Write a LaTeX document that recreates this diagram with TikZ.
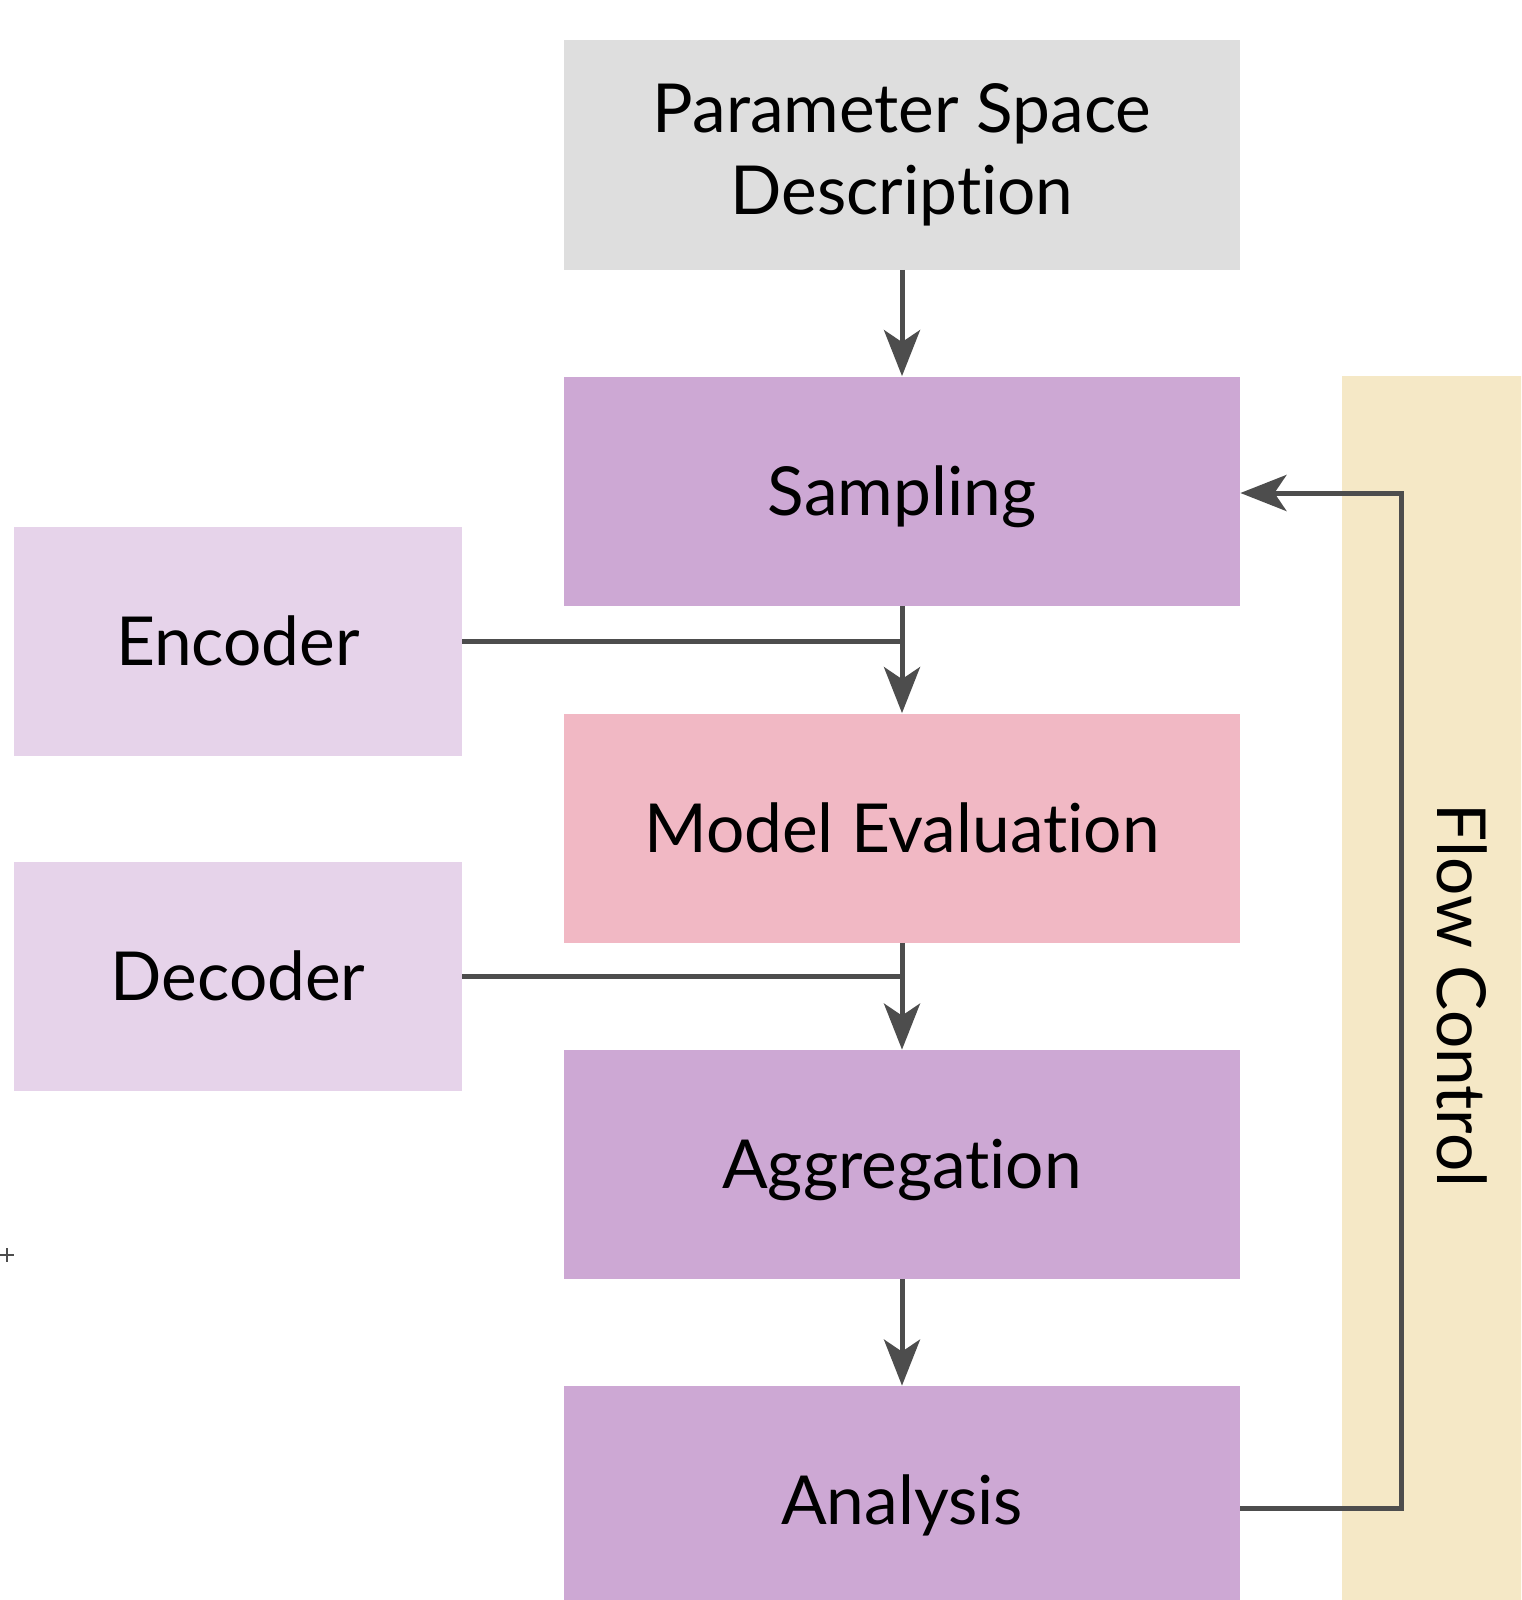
\documentclass[tikz,border=0pt]{standalone}
\usepackage{fontspec}
\setmainfont{Lato}[Ligatures=NoCommon]
\usetikzlibrary{arrows.meta, positioning}
\definecolor{boxgray}{HTML}{DEDEDE}
\definecolor{stagepurple}{HTML}{CDA8D4}
\definecolor{evalpink}{HTML}{F1B8C4}
\definecolor{codecpurple}{HTML}{E6D3EA}
\definecolor{flowbeige}{HTML}{F5E8C6}
\definecolor{linegray}{HTML}{4D4D4D}

\begin{document}
\begin{tikzpicture}[x=0.5pt,y=-0.5pt,
  block/.style={minimum width=338pt,minimum height=114.5pt,inner sep=0pt,align=center,
    font=\fontsize{33.8}{41}\selectfont},
  oneline/.style={block,text height=24pt,text depth=0pt},
  side/.style={oneline,minimum width=224pt,fill=codecpurple},
  link/.style={draw=linegray,line width=2.5pt},
  arr/.style={link,-{Stealth[length=23pt,width=18pt,inset=6pt]}}]
  \fill[white](0,0) rectangle (1521,1600);
  \clip(0,0) rectangle (1521,1600);
  % main chain
  \node[block,fill=boxgray](param) at(902,155){Parameter Space\\Description};
  \node[oneline,fill=stagepurple](sampl) at(902,491){Sampling};
  \node[oneline,fill=evalpink](model) at(902,828){Model Evaluation};
  \node[oneline,fill=stagepurple](aggr) at(902,1164.5){Aggregation};
  \node[oneline,fill=stagepurple](anal) at(902,1500.5){Analysis};
  % side boxes
  \node[side](enc) at(238,641.5){Encoder};
  \node[side](dec) at(238,976.5){Decoder};
  % flow control band
  \node[oneline,fill=flowbeige,rotate=-90,minimum width=619.5pt,minimum height=119pt](flow) at(1461,995.5){Flow Control};
  % arrows
  \draw[arr](param) -- (sampl);
  \draw[arr](sampl) -- (model);
  \draw[arr](model) -- (aggr);
  \draw[arr](aggr) -- (anal);
  \draw[link](enc) -- (enc -| sampl);
  \draw[link](dec) -- (dec -| model);
  \coordinate (loop) at(1401,0);
  \draw[arr](anal.east |- 0,1508) -| (loop |- 0,1508) |- (sampl.east |- 0,493);
  % small cross mark
  \draw[linegray,line width=0.8pt](0,1255) -- (14,1255) (7,1248) -- (7,1262);
\end{tikzpicture}
\end{document}
